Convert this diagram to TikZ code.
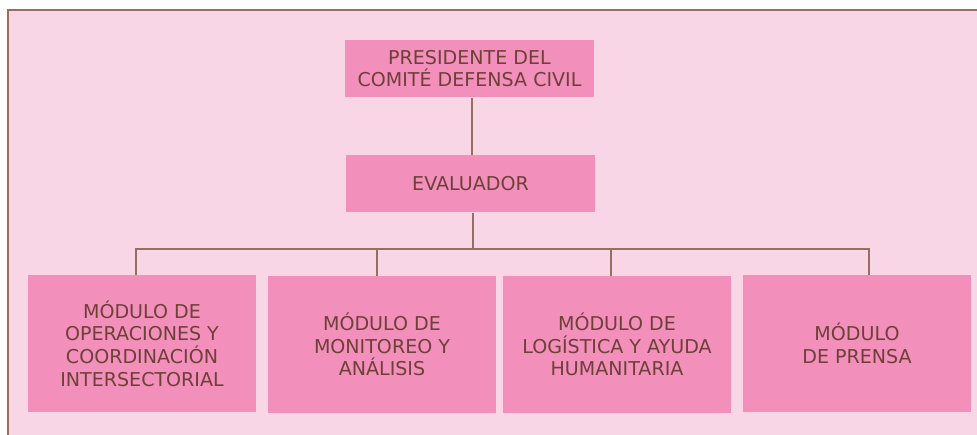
\documentclass[tikz,border=0pt]{standalone}
\usepackage{fontspec}
\setmainfont{DejaVu Sans}
\definecolor{bgpink}{RGB}{249,214,229}
\definecolor{boxpink}{RGB}{242,143,186}
\definecolor{textbrown}{RGB}{110,64,56}
\definecolor{linebrown}{RGB}{152,110,98}
\tikzset{every picture/.style={line width=0.75pt}}
\tikzset{
  orgbox/.style={fill=boxpink,text=textbrown,align=center,inner sep=0.75pt,
    font=\fontsize{14.3}{17}\selectfont},
  topbox/.style={orgbox,minimum width=186.75pt,minimum height=42.75pt},
  modbox/.style={orgbox,minimum width=171pt,minimum height=102.75pt},
  conn/.style={draw=linebrown,line width=1.5pt}
}
\begin{document}
\begin{tikzpicture}[x=0.75pt,y=0.75pt,yscale=-1,xscale=1]
\useasboundingbox (0,0) rectangle (977,435);

%Shape: Frame
\fill[bgpink] (8,10) rectangle (977,435);
\draw[linebrown,line width=1.5pt] (977,10.5) -- (8,10.5) -- (8,435);

% Text Node
\node[topbox] (pres) at (469.5,68.5) {PRESIDENTE DEL\\COMITÉ DEFENSA CIVIL};
% Text Node
\node[topbox] (eval) at (470.5,183.5) {EVALUADOR};
% Text Node
\node[modbox] (opera) at (142,343.5) {MÓDULO DE\\OPERACIONES Y\\COORDINACIÓN\\INTERSECTORIAL};
% Text Node
\node[modbox] (monit) at (382,344.5) {MÓDULO DE\\MONITOREO Y\\ANÁLISIS};
% Text Node
\node[modbox] (logis) at (617,344.5) {MÓDULO DE\\LOGÍSTICA Y AYUDA\\HUMANITARIA};
% Text Node
\node[modbox] (prensa) at (857,343.5) {MÓDULO\\DE PRENSA};

%Straight Lines
\draw[conn] ([xshift=1.5pt]pres.south) -- ([xshift=1.5pt]pres.south |- eval.north);
\draw[conn] ([xshift=1.5pt]eval.south) -- ++(0,36) coordinate (bar);
\draw[conn] ([xshift=-4.5pt]opera.north) |- (bar) -| ([xshift=9pt]prensa.north);
\draw[conn] ([xshift=-3.75pt]monit.north) -- ([xshift=-3.75pt]monit.north |- bar);
\draw[conn] ([xshift=-4.5pt]logis.north) -- ([xshift=-4.5pt]logis.north |- bar);

\end{tikzpicture}
\end{document}
